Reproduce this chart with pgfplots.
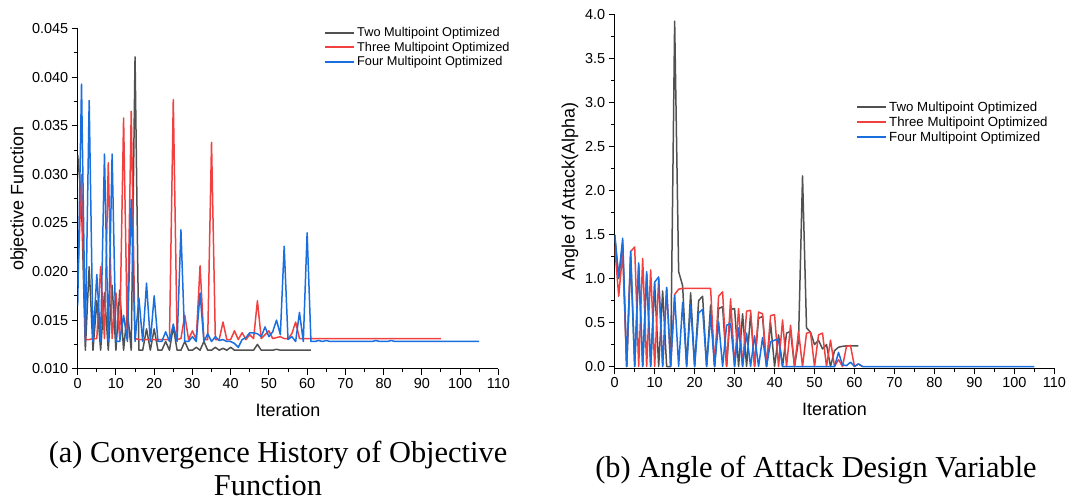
\documentclass[border=0pt]{standalone}
\usepackage{pgfplots}
\pgfplotsset{compat=1.18}
\usepackage{fontspec}
\setmainfont{Liberation Sans}
\newfontfamily\capfont{Liberation Serif}
\definecolor{cTwo}{HTML}{515151}
\definecolor{cThree}{HTML}{F14040}
\definecolor{cFour}{HTML}{1A6FDF}
\pgfplotsset{
  legend image code/.code={\draw[#1, line width=2bp] (0bp,0bp) -- (29bp,0bp);},
  sTwo/.style={color=cTwo, line width=1.5bp, line join=round},
  sThree/.style={color=cThree, line width=1.5bp, line join=round},
  sFour/.style={color=cFour, line width=1.5bp, line join=round},
  myaxis/.style={
    scale only axis,
    axis x line*=bottom, axis y line*=left,
    axis line style={line width=1.2bp, -},
    tick align=outside,
    major tick length=6bp, minor tick length=3.5bp,
    every tick/.style={black, line width=1bp},
    xmin=0, xmax=110, xtick={0,10,...,110}, minor x tick num=1, minor y tick num=1,
    /pgf/number format/assume math mode=true,
    tick label style={font=\fontsize{14.5}{16}\selectfont},
    label style={font=\fontsize{18}{20}\selectfont},
    xlabel={Iteration},
    xlabel style={yshift=-8bp},
    legend cell align=left,
    legend style={draw=none, fill=none, inner sep=0bp, row sep=0bp, nodes={inner sep=2bp}},
  }
}
\begin{document}
\begin{tikzpicture}
\useasboundingbox (0,0) rectangle (1068bp,503bp);
% ---------------- (a) objective function ----------------
\begin{axis}[myaxis,
  at={(77.7bp,134.3bp)}, anchor=south west,
  width=420.6bp, height=340bp,
  ymin=0.010, ymax=0.045, ytick={0.010,0.015,...,0.046},
  scaled y ticks=false,
  yticklabel style={/pgf/number format/.cd, fixed, fixed zerofill, precision=3},
  ylabel={objective Function},
  ylabel style={yshift=-2bp},
  legend style={at={(0.5856,1.0109)}, anchor=north west, font=\fontsize{12.8}{14}\selectfont},
]
\addplot[sTwo] coordinates {(0,0.0320)(1,0.0270)(2,0.0119)(3,0.0205)(4,0.0119)(5,0.0170)(6,0.0119)(7,0.0178)(8,0.0119)(9,0.0186)(10,0.0119)(11,0.0181)(12,0.0119)(13,0.0160)(14,0.0119)(15,0.0421)(16,0.0119)(17,0.0119)(18,0.0141)(19,0.0119)(20,0.0141)(21,0.0119)(22,0.0119)(23,0.0128)(24,0.0119)(25,0.0143)(26,0.0119)(27,0.0119)(28,0.0128)(29,0.0119)(30,0.0119)(31,0.0122)(32,0.0119)(33,0.0128)(34,0.0119)(35,0.0119)(36,0.0122)(37,0.0119)(38,0.0121)(39,0.0119)(40,0.0122)(41,0.0119)(42,0.0119)(43,0.0119)(44,0.0119)(45,0.0119)(46,0.0119)(47,0.0125)(48,0.0119)(49,0.0119)(50,0.0119)(51,0.0119)(52,0.0120)(53,0.0119)(54,0.0119)(55,0.0119)(56,0.0119)(57,0.0119)(58,0.0119)(59,0.0119)(60,0.0119)(61,0.0119)};
\addlegendentry{Two Multipoint Optimized}
\addplot[sThree] coordinates {(0,0.0185)(1,0.0300)(2,0.0130)(3,0.0130)(4,0.0131)(5,0.0131)(6,0.0205)(7,0.0131)(8,0.0312)(9,0.0131)(10,0.0178)(11,0.0131)(12,0.0358)(13,0.0131)(14,0.0365)(15,0.0131)(16,0.0130)(17,0.0130)(18,0.0130)(19,0.0130)(20,0.0130)(21,0.0130)(22,0.0130)(23,0.0130)(24,0.0130)(25,0.0377)(26,0.0130)(27,0.0131)(28,0.0155)(29,0.0130)(30,0.0139)(31,0.0130)(32,0.0206)(33,0.0130)(34,0.0130)(35,0.0333)(36,0.0130)(37,0.0130)(38,0.0148)(39,0.0130)(40,0.0130)(41,0.0139)(42,0.0130)(43,0.0137)(44,0.0130)(45,0.0135)(46,0.0131)(47,0.0170)(48,0.0131)(49,0.0135)(50,0.0139)(51,0.0131)(52,0.0132)(53,0.0133)(54,0.0131)(55,0.0131)(56,0.0136)(57,0.0148)(58,0.0131)(59,0.0131)(60,0.0131)(65,0.0131)(70,0.0131)(75,0.0131)(80,0.0131)(85,0.0131)(90,0.0131)(95,0.0131)};
\addlegendentry{Three Multipoint Optimized}
\addplot[sFour] coordinates {(0,0.0165)(1,0.0393)(2,0.0128)(3,0.0376)(4,0.0128)(5,0.0197)(6,0.0128)(7,0.0321)(8,0.0128)(9,0.0321)(10,0.0128)(11,0.0128)(12,0.0155)(13,0.0128)(14,0.0274)(15,0.0128)(16,0.0173)(17,0.0128)(18,0.0188)(19,0.0128)(20,0.0175)(21,0.0128)(22,0.0128)(23,0.0138)(24,0.0128)(25,0.0146)(26,0.0128)(27,0.0243)(28,0.0128)(29,0.0128)(30,0.0133)(31,0.0128)(32,0.0178)(33,0.0128)(34,0.0136)(35,0.0128)(36,0.0133)(37,0.0129)(38,0.0130)(39,0.0128)(40,0.0128)(41,0.0126)(42,0.0122)(43,0.0130)(44,0.0132)(45,0.0137)(46,0.0137)(47,0.0136)(48,0.0133)(49,0.0143)(50,0.0133)(51,0.0138)(52,0.0150)(53,0.0135)(54,0.0226)(55,0.0130)(56,0.0133)(57,0.0128)(58,0.0158)(59,0.0128)(60,0.0240)(61,0.0128)(62,0.0128)(63,0.0129)(64,0.0128)(65,0.0129)(66,0.0128)(70,0.0128)(77,0.0128)(78,0.0129)(79,0.0128)(81,0.0128)(82,0.0129)(83,0.0128)(90,0.0128)(100,0.0128)(105,0.0128)};
\addlegendentry{Four Multipoint Optimized}
\end{axis}
% ---------------- (b) angle of attack ----------------
\begin{axis}[myaxis,
  at={(614.7bp,134.7bp)}, anchor=south west,
  width=439.6bp, height=353.3bp,
  ymin=-0.02, ymax=4.0, ytick={0,0.5,...,4.01},
  yticklabel style={/pgf/number format/.cd, fixed, fixed zerofill, precision=1},
  ylabel={Angle of Attack(Alpha)},
  legend style={at={(0.549,0.761)}, anchor=north west, font=\fontsize{13.3}{15}\selectfont},
]
\addplot[sTwo] coordinates {(0,1.50)(1,1.00)(2,1.40)(3,0)(4,1.25)(5,0)(6,1.15)(7,0)(8,1.05)(9,0)(10,0.95)(11,0)(12,0.86)(13,0)(14,0)(15,3.93)(16,1.08)(17,0.92)(18,0)(19,0.84)(20,0)(21,0.75)(22,0.80)(23,0)(24,0.70)(25,0)(26,0.66)(27,0.68)(28,0)(29,0.65)(30,0.66)(31,0)(32,0.60)(33,0)(34,0.60)(35,0)(36,0.55)(37,0.57)(38,0)(39,0.50)(40,0)(41,0.36)(42,0)(43,0.38)(44,0.40)(45,0)(46,0.30)(47,2.17)(48,0.44)(49,0.39)(50,0.25)(51,0.30)(52,0.20)(53,0.25)(54,0)(55,0.18)(56,0.22)(57,0.23)(58,0.235)(59,0.235)(60,0.235)(61,0.235)};
\addlegendentry{Two Multipoint Optimized}
\addplot[sThree] coordinates {(0,1.37)(1,0.80)(2,1.30)(3,0)(4,1.31)(5,1.36)(6,0)(7,1.23)(8,0)(9,1.10)(10,0)(11,1.00)(12,0)(13,0.90)(14,0)(15,0.82)(16,0.88)(17,0.89)(18,0.89)(19,0.89)(20,0.89)(21,0.89)(22,0.89)(23,0.89)(24,0.89)(25,0)(26,0.80)(27,0.85)(28,0)(29,0.77)(30,0)(31,0.66)(32,0)(33,0.63)(34,0.64)(35,0)(36,0.62)(37,0.60)(38,0)(39,0.58)(40,0.59)(41,0)(42,0.53)(43,0)(44,0.47)(45,0)(46,0.40)(47,0)(48,0.38)(49,0.39)(50,0)(51,0.36)(52,0.38)(53,0)(54,0.30)(55,0)(56,0.08)(57,0)(58,0.23)(59,0.24)(60,0)(61,0.03)(62,0)};
\addlegendentry{Three Multipoint Optimized}
\addplot[sFour] coordinates {(0,1.50)(1,1.02)(2,1.46)(3,0)(4,1.31)(5,0)(6,1.18)(7,0)(8,1.08)(9,0)(10,0.96)(11,1.02)(12,0)(13,0.90)(14,0)(15,0.81)(16,0)(17,0.73)(18,0)(19,0.70)(20,0)(21,0.61)(22,0.65)(23,0)(24,0.58)(25,0)(26,0.51)(27,0)(28,0.47)(29,0.49)(30,0)(31,0.44)(32,0)(33,0.38)(34,0)(35,0.35)(36,0)(37,0.33)(38,0)(39,0.28)(40,0.30)(41,0.31)(42,0)(45,0)(50,0)(55,0)(56,0.16)(57,0.02)(58,0.01)(59,0.05)(60,0)(61,0.03)(62,0)(70,0)(80,0)(90,0)(100,0)(105,0)};
\addlegendentry{Four Multipoint Optimized}
\end{axis}
% ---------------- captions ----------------
\node[font=\capfont\fontsize{30.5}{32}\selectfont, inner sep=0pt] at (278bp,48bp) {(a) Convergence History of Objective};
\node[font=\capfont\fontsize{30.5}{32}\selectfont, inner sep=0pt] at (268bp,17bp) {Function};
\node[font=\capfont\fontsize{30.5}{32}\selectfont, inner sep=0pt] at (816bp,33bp) {(b) Angle of Attack Design Variable};
\end{tikzpicture}
\end{document}
